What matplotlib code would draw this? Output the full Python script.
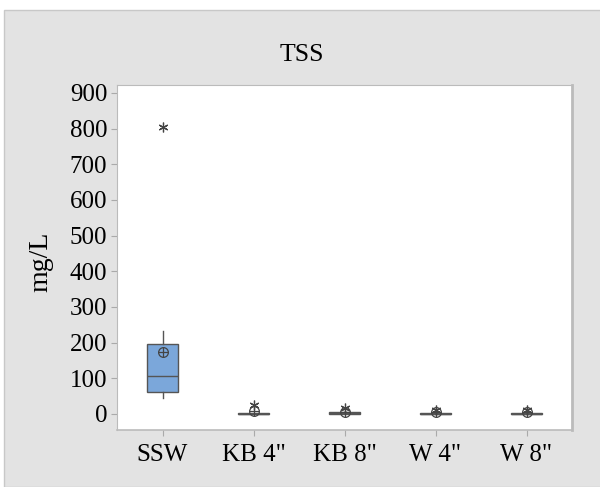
import matplotlib.pyplot as plt
from matplotlib.patches import Rectangle

# === Data ===
groups = ["SSW", "KB 4\"", "KB 8\"", "W 4\"", "W 8\""]
whislo = [45, 0, 0, 0, 0]
q1 = [62, 0, 0, 0, 0]
med = [106, 1, 2, 1, 1]
q3 = [196, 2, 6, 2, 2]
whishi = [232, 3, 8, 4, 4]
means = [174, 7, 6, 5, 5]
outliers = [[805], [24], [17], [10], [10]]

plt.rcParams["font.family"] = ["Liberation Serif", "DejaVu Serif"]

fig = plt.figure(figsize=(6, 4.87), dpi=100)
fig.patch.set_facecolor("white")
fig.patches.append(Rectangle((4 / 600, 0), 1, 1 - 10 / 487, transform=fig.transFigure,
                             facecolor="#e3e3e3", edgecolor="#c8c8c8", linewidth=1,
                             zorder=-10))

ax = fig.add_axes([117 / 600, 1 - 430 / 487, (572 - 117) / 600, (430 - 85) / 487])
ax.set_zorder(5)

stats = []
for i, g in enumerate(groups):
    stats.append(dict(label=g, whislo=whislo[i], q1=q1[i], med=med[i], q3=q3[i],
                      whishi=whishi[i], mean=means[i], fliers=outliers[i]))

pos = list(range(1, len(groups) + 1))
ax.bxp(stats, positions=pos, widths=0.33, patch_artist=True, showcaps=False,
       showfliers=False, showmeans=False,
       boxprops=dict(facecolor="#7ba7da", edgecolor="#555555", linewidth=1),
       medianprops=dict(color="#555555", linewidth=1),
       whiskerprops=dict(color="#555555", linewidth=1))

# outliers as asterisks
for p, o in zip(pos, outliers):
    ax.plot([p] * len(o), o, linestyle="none", marker=(6, 2, 0), markersize=7,
            color="#444444", markeredgewidth=0.9, zorder=4)

# means as circled plus
ax.plot(pos, means, linestyle="none", marker="o", markersize=7, markerfacecolor="none",
        markeredgecolor="#444444", markeredgewidth=0.9, zorder=5)
ax.plot(pos, means, linestyle="none", marker="+", markersize=7,
        color="#444444", markeredgewidth=0.9, zorder=5)

ax.set_xlim(0.5, 5.5)
ax.set_ylim(-45, 922)
ax.set_yticks(range(0, 901, 100))
ax.set_xticks(pos)
ax.set_xticklabels(groups)
ax.tick_params(labelsize=18, color="#aaaaaa", length=4, labelcolor="black")
ax.tick_params(axis="x", pad=6)
ax.tick_params(axis="y", pad=3)
for s in ax.spines.values():
    s.set_color("#bbbbbb")
ax.spines["right"].set_linewidth(2)
ax.spines["bottom"].set_linewidth(1.2)

# title centred on the figure panel, y label placed by hand
fig.text(302 / 600, 1 - 61 / 487, "TSS", fontsize=18.5, ha="center", va="baseline")
fig.text(41 / 600, 1 - 262 / 487, "mg/L", fontsize=20, rotation=90,
         ha="center", va="center")

plt.savefig("out.png", dpi=100)
